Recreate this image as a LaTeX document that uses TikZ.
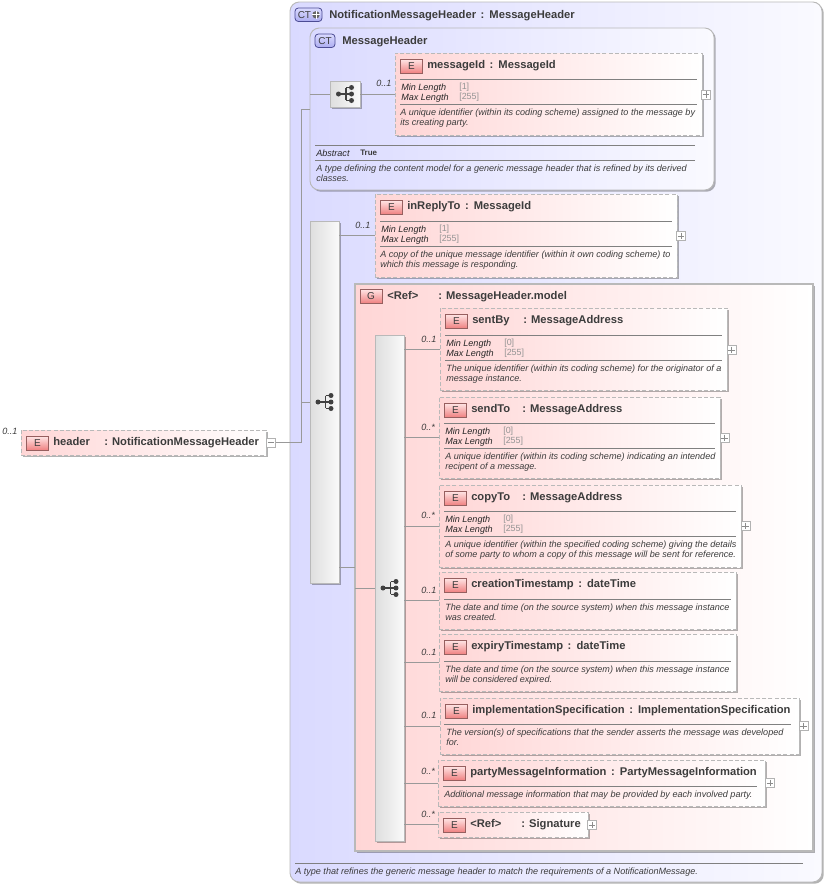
\documentclass[tikz,border=0pt]{standalone}
\usepackage{fontspec}
\setmainfont{Liberation Sans}
\usetikzlibrary{shadows}

\definecolor{ink}{RGB}{60,60,60}
\definecolor{edge}{RGB}{185,185,185}
\definecolor{pinkl}{RGB}{255,214,214}
\definecolor{lavl}{RGB}{218,218,255}
\definecolor{lavr}{RGB}{250,250,255}
\definecolor{badgeb}{RGB}{172,172,240}
\definecolor{badger}{RGB}{240,130,130}
\definecolor{badgeline}{RGB}{150,95,95}

\tikzset{
  flat/.style={anchor=north west,inner sep=0pt,outer sep=0pt},
  softshadow/.style={drop shadow={shadow xshift=1.3pt,shadow yshift=-1.3pt,opacity=.3,fill=black}},
  elembox/.style={flat,draw=edge,line width=.75pt,dash pattern=on 3pt off 1.6pt,left color=pinkl,right color=white,softshadow},
  ctbox/.style={flat,draw=edge,line width=.7pt,rounded corners=7pt,left color=lavl,right color=lavr,softshadow},
  groupbox/.style={flat,draw=edge,line width=.9pt,left color=pinkl,right color=white,softshadow},
  seqbar/.style={flat,draw=edge,line width=.6pt,left color=black!13,right color=black!2,softshadow},
  ebadge/.style={flat,draw=badgeline,line width=.6pt,top color=pinkl!60,bottom color=badger,text=ink,font=\fontsize{7.5}{9}\selectfont,minimum width=16.5pt,minimum height=10.5pt},
  ctbadge/.style={flat,draw=black!60!blue!70,line width=.6pt,rounded corners=2.5pt,top color=lavl,bottom color=badgeb,text=ink,font=\fontsize{7.5}{9}\selectfont,minimum height=10pt},
  title/.style={anchor=base west,inner sep=0pt,text=ink,font=\fontsize{8.4}{10}\bfseries\selectfont},
  note/.style={anchor=base west,inner sep=0pt,text=ink,font=\fontsize{6.8}{8}\itshape\selectfont},
  key/.style={anchor=base west,inner sep=0pt,text=black!85,font=\fontsize{6.8}{8}\itshape\selectfont},
  val/.style={anchor=base west,inner sep=0pt,text=black!42,font=\fontsize{6.7}{8}\selectfont},
  occurs/.style={anchor=base west,inner sep=0pt,text=ink,font=\fontsize{6.8}{8}\itshape\selectfont},
  rule/.style={draw=black!50,line width=.5pt},
  conn/.style={draw=black!40,line width=.6pt},
  toggle/.style={anchor=center,draw=black!30,fill=white,line width=.5pt,inner sep=0pt,minimum size=7pt},
}

\newcommand\boxat[6]{%
  \pgfmathsetmacro\bw{(#5-#3)*0.75}\pgfmathsetmacro\bh{(#6-#4)*0.75}%
  \node[#1,minimum width=\bw pt,minimum height=\bh pt] (#2) at (#3,#4) {};}
\newcommand\pad[1]{\makebox[38.25pt][l]{#1}}
\newcommand\sep{\hspace{3.4pt}:\hspace{3.8pt}}
% id x1 y1 x2 y2 title
\newcommand\elem[6]{%
  \boxat{elembox}{#1}{#2}{#3}{#4}{#5}%
  \pgfmathsetmacro\tx{#2+5.5}\pgfmathsetmacro\ty{#3+6}%
  \node[ebadge] (#1-e) at (\tx,\ty) {E};
  \pgfmathsetmacro\tx{#2+32}\pgfmathsetmacro\ty{#3+15.7}%
  \node[title] (#1-t) at (\tx,\ty) {#6};}
% id x1 x2 y min max : rule, two facets, rule
\newcommand\facets[6]{%
  \draw[rule] (#2,#4) -- (#3,#4);
  \pgfmathsetmacro\ty{#4+11}\node[key] (#1-a) at (#2+1,\ty) {Min Length};
  \node[val] (#1-av) at (#2+59,\ty-1) {[#5]};
  \pgfmathsetmacro\ty{#4+21}\node[key] (#1-b) at (#2+1,\ty) {Max Length};
  \node[val] (#1-bv) at (#2+59,\ty-1) {[#6]};
  \pgfmathsetmacro\ty{#4+25}\draw[rule] (#2,\ty) -- (#3,\ty);}
% id x y text
\newcommand\desc[4]{\node[note] (#1) at (#2,#3) {#4};}
% id x y occurs
\newcommand\occ[4]{\node[occurs] (#1) at (#2,#3) {#4};}
% id cx cy
\newcommand\plusbox[3]{%
  \node[toggle] (#1) at (#2,#3) {};
  \draw[black!45,line width=.4pt] ([xshift=1.2pt]#1.west) -- ([xshift=-1.2pt]#1.east)
    ([yshift=-1.2pt]#1.north) -- ([yshift=1.2pt]#1.south);}
% node the icon sits in
\newcommand\seqicon[1]{%
  \begin{scope}[shift={(#1.center)}]
    \draw[black!75,line width=.8pt] (-6,0) -- (7,0) (1,-6.3) -- (1,6.3) (1,-6.3) -- (7,-6.3) (1,6.3) -- (7,6.3);
    \fill[black!75] (-6.5,0) circle (2.5) (6.5,-6.5) circle (2.5) (6.5,0) circle (2.5) (6.5,6.5) circle (2.5);
  \end{scope}}

\begin{document}
\begin{tikzpicture}[x=0.75pt,y=-0.75pt]
\useasboundingbox (0,0) rectangle (827,886);

% outer complex type
\boxat{ctbox}{outer}{290}{2}{822}{882}
\boxat{ctbadge}{outer-b}{295}{8}{322}{21.5}
\node[anchor=west,inner sep=0pt,text=ink,font=\fontsize{7.5}{9}\selectfont] (outer-bt) at (297.5,14.8) {CT};
\node[circle,fill=black!60,inner sep=0pt,minimum size=5.6pt] (outer-bp) at (316,14.8) {};
\draw[white,line width=.6pt] (outer-bp.west) -- (outer-bp.east) (outer-bp.north) -- (outer-bp.south);
\node[title] (outer-t) at (329,18) {NotificationMessageHeader\sep MessageHeader};
\draw[rule] (295,863) -- (803,863);
\desc{outer-d}{295}{874}{A type that refines the generic message header to match the requirements of a NotificationMessage.}

% inner complex type
\boxat{ctbox}{inner}{310}{28}{714}{190}
\boxat{ctbadge}{inner-b}{315}{34}{335}{47.5}
\node[anchor=center,inner sep=0pt,text=ink,font=\fontsize{7.5}{9}\selectfont] (inner-bt) at (325,41) {CT};
\node[title] (inner-t) at (342,44) {MessageHeader};
\boxat{seqbar}{seqs}{330}{81}{360}{107}
\seqicon{seqs}
\elem{messageId}{395}{53}{702}{135}{messageId\sep MessageId}
\facets{messageId-f}{400}{697}{79}{1}{255}
\desc{messageId-d1}{400}{115}{A unique identifier (within its coding scheme) assigned to the message by}
\desc{messageId-d2}{400}{125}{its creating party.}
\plusbox{messageId-p}{706}{94.5}
\occ{messageId-o}{376}{86}{0..1}
\draw[rule] (315,145) -- (695,145);
\node[key] (abs) at (316,156) {Abstract};
\node[anchor=base west,inner sep=0pt,text=ink,font=\fontsize{6}{7}\bfseries\selectfont] (absv) at (360,155) {True};
\draw[rule] (315,160) -- (695,160);
\desc{inner-d1}{316}{171}{A type defining the content model for a generic message header that is refined by its derived}
\desc{inner-d2}{316}{181}{classes.}

% outer sequence
\boxat{seqbar}{seqa}{310}{221}{339}{583}
\seqicon{seqa}
\elem{inReplyTo}{375}{194}{677}{277}{inReplyTo\sep MessageId}
\facets{inReplyTo-f}{380}{672}{221}{1}{255}
\desc{inReplyTo-d1}{380}{257}{A copy of the unique message identifier (within it own coding scheme) to}
\desc{inReplyTo-d2}{380}{267}{which this message is responding.}
\plusbox{inReplyTo-p}{681}{236}
\occ{inReplyTo-o}{355}{228}{0..1}

% model group
\boxat{groupbox}{group}{355}{284}{813}{851}
\node[ebadge] (group-b) at (360,289) {G};
\node[title] (group-t) at (387,299) {\pad{<Ref>}: MessageHeader.model};
\boxat{seqbar}{seqb}{375}{335}{404}{841}
\seqicon{seqb}

\elem{sentBy}{440}{308}{727}{390}{\pad{sentBy}: MessageAddress}
\facets{sentBy-f}{445}{722}{335}{0}{255}
\desc{sentBy-d1}{446}{371}{The unique identifier (within its coding scheme) for the originator of a}
\desc{sentBy-d2}{446}{381}{message instance.}
\plusbox{sentBy-p}{731.5}{350}
\occ{sentBy-o}{421}{342}{0..1}

\elem{sendTo}{439}{397}{720}{478}{\pad{sendTo}: MessageAddress}
\facets{sendTo-f}{444}{715}{423}{0}{255}
\desc{sendTo-d1}{445}{459}{A unique identifier (within its coding scheme) indicating an intended}
\desc{sendTo-d2}{445}{469}{recipent of a message.}
\plusbox{sendTo-p}{724.5}{438}
\occ{sendTo-o}{421}{430}{0..*}

\elem{copyTo}{439}{485}{741}{567}{\pad{copyTo}: MessageAddress}
\facets{copyTo-f}{444}{736}{511}{0}{255}
\desc{copyTo-d1}{445}{547}{A unique identifier (within the specified coding scheme) giving the details}
\desc{copyTo-d2}{445}{557}{of some party to whom a copy of this message will be sent for reference.}
\plusbox{copyTo-p}{745.5}{526}
\occ{copyTo-o}{421}{518}{0..*}

\elem{creation}{439}{572}{736}{629}{creationTimestamp\sep dateTime}
\draw[rule] (444,599) -- (731,599);
\desc{creation-d1}{445}{610}{The date and time (on the source system) when this message instance}
\desc{creation-d2}{445}{620}{was created.}
\occ{creation-o}{421}{593}{0..1}

\elem{expiry}{439}{634}{736}{691}{expiryTimestamp\sep dateTime}
\draw[rule] (444,661) -- (731,661);
\desc{expiry-d1}{445}{672}{The date and time (on the source system) when this message instance}
\desc{expiry-d2}{445}{682}{will be considered expired.}
\occ{expiry-o}{421}{655}{0..1}

\elem{impl}{440}{698}{799}{754}{implementationSpecification\sep ImplementationSpecification}
\draw[rule] (444,724) -- (791,724);
\desc{impl-d1}{446}{735}{The version(s) of specifications that the sender asserts the message was developed}
\desc{impl-d2}{446}{745}{for.}
\plusbox{impl-p}{803.5}{726}
\occ{impl-o}{421}{718}{0..1}

\elem{party}{438}{760}{765}{806}{partyMessageInformation\sep PartyMessageInformation}
\draw[rule] (443,786) -- (757,786);
\desc{party-d}{444}{797}{Additional message information that may be provided by each involved party.}
\plusbox{party-p}{770}{783}
\occ{party-o}{421}{774}{0..*}

\elem{sig}{438}{812}{588}{837}{\pad{<Ref>}: Signature}
\plusbox{sig-p}{592}{825}
\occ{sig-o}{421}{817}{0..*}

% root element
\elem{header}{21}{430}{266}{455}{\pad{header}: NotificationMessageHeader}
\node[toggle] (header-m) at (271,442.5) {};
\draw[black!45,line width=.4pt] ([xshift=1.2pt]header-m.west) -- ([xshift=-1.2pt]header-m.east);
\occ{header-o}{2}{434}{0..1}

% connectors
\coordinate (trunk) at (301,442.5);
\draw[conn] (header-m.east) -- (trunk);
\draw[conn] (trunk) -- (trunk |- inner.west) -- (inner.west);
\draw[conn] (trunk |- seqa.west) -- (seqa.west);
\draw[conn] (inner.west |- seqs.west) -- (seqs.west);
\draw[conn] (seqs.east) -- (messageId.west);
\draw[conn] (seqa.east |- inReplyTo.west) -- (inReplyTo.west);
\draw[conn] (seqa.east |- group.west) -- (group.west);
\draw[conn] (group.west |- seqb.west) -- (seqb.west);
\foreach \el in {sentBy,sendTo,copyTo,creation,expiry,impl,party,sig}
  \draw[conn] (seqb.east |- \el.west) -- (\el.west);
\end{tikzpicture}
\end{document}
